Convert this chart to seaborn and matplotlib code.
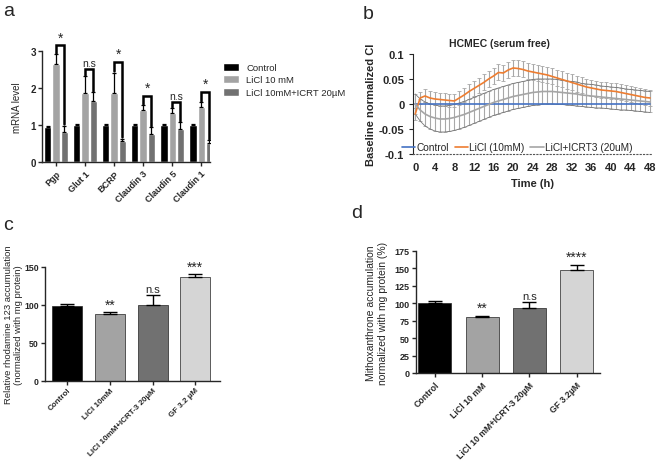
import matplotlib
matplotlib.use("Agg")
import pandas as pd
import matplotlib.pyplot as plt
import seaborn as sns

# ---- panel a: mRNA levels
genes = ["Pgp", "Glut 1", "BCRP", "Claudin 3", "Claudin 5", "Claudin 1"]
treatments_a = ["Control", "LiCl 10 mM", "LiCl 10mM+ICRT 20µM"]
mrna_ctrl = [0.94, 1.0, 1.0, 1.0, 1.0, 1.0]
mrna_licl = [2.65, 1.86, 1.86, 1.39, 1.32, 1.48]
mrna_icrt = [0.82, 1.64, 0.56, 0.76, 0.89, 0.51]
err_ctrl = [0.04, 0.02, 0.02, 0.02, 0.02, 0.02]
err_licl = [0.26, 0.46, 0.55, 0.14, 0.13, 0.13]
err_icrt = [0.16, 0.24, 0.06, 0.18, 0.18, 0.07]
sig_a = ["*", "n.s", "*", "*", "n.s", "*"]
bracket_top_a = [3.15, 2.5, 2.7, 1.78, 1.62, 1.9]

# ---- panel b: impedance time course
hours = list(range(49))
ctrl_ci = [0.0, 0.0, 0.0, 0.0, 0.0, 0.0, 0.0, 0.0, 0.0, 0.0, 0.0, 0.0, 0.0,
           0.0, 0.0, 0.0, 0.0, 0.0, 0.0, 0.0, 0.0, 0.0, 0.0, 0.0, 0.0, 0.0,
           0.0, 0.0, 0.0, 0.0, 0.0, 0.0, 0.0, 0.0, 0.0, 0.0, 0.0, 0.0, 0.0,
           0.0, 0.0, 0.0, 0.0, 0.0, 0.0, 0.0, 0.0, 0.0, 0.0]
licl_ci = [-0.02, 0.012, 0.016, 0.012, 0.01, 0.009, 0.008, 0.007, 0.006, 0.012,
           0.018, 0.025, 0.031, 0.037, 0.043, 0.05, 0.056, 0.063, 0.062, 0.068,
           0.072, 0.071, 0.069, 0.066, 0.064, 0.062, 0.06, 0.058, 0.055, 0.052,
           0.049, 0.046, 0.043, 0.04, 0.037, 0.034, 0.032, 0.03, 0.028, 0.027,
           0.026, 0.025, 0.023, 0.021, 0.019, 0.017, 0.015, 0.013, 0.012]
licl_ci_err = [0.012, 0.012, 0.013, 0.013, 0.013, 0.013, 0.013, 0.013, 0.013, 0.014,
               0.014, 0.015, 0.015, 0.015, 0.016, 0.016, 0.016, 0.016, 0.016, 0.016,
               0.016, 0.016, 0.016, 0.016, 0.016, 0.016, 0.016, 0.016, 0.016, 0.016,
               0.016, 0.016, 0.016, 0.016, 0.016, 0.016, 0.016, 0.016, 0.016, 0.016,
               0.016, 0.016, 0.016, 0.016, 0.016, 0.016, 0.016, 0.016, 0.016]
icrt_ci = [0.0, -0.012, -0.02, -0.025, -0.028, -0.03, -0.03, -0.029, -0.027, -0.024,
           -0.021, -0.017, -0.013, -0.009, -0.005, -0.001, 0.003, 0.006, 0.009, 0.012,
           0.015, 0.017, 0.019, 0.021, 0.023, 0.024, 0.025, 0.025, 0.025, 0.024,
           0.023, 0.022, 0.021, 0.02, 0.018, 0.017, 0.016, 0.015, 0.014, 0.013,
           0.012, 0.011, 0.01, 0.009, 0.008, 0.007, 0.006, 0.005, 0.004]
icrt_ci_err = [0.02, 0.022, 0.024, 0.025, 0.026, 0.026, 0.026, 0.026, 0.026, 0.026,
               0.026, 0.026, 0.026, 0.026, 0.026, 0.026, 0.026, 0.026, 0.026, 0.026,
               0.026, 0.026, 0.026, 0.026, 0.026, 0.026, 0.025, 0.025, 0.025, 0.025,
               0.024, 0.024, 0.024, 0.024, 0.023, 0.023, 0.023, 0.023, 0.022, 0.022,
               0.022, 0.022, 0.022, 0.021, 0.021, 0.021, 0.021, 0.021, 0.021]
series_b = ["Control", "LiCl (10mM)", "LiCl+ICRT3 (20uM)"]

# ---- panel c: rhodamine 123
groups_c = ["Control", "LiCl 10mM", "LiCl 10mM+ICRT-3 20µM", "GF 3.2 µM"]
rhod = [98, 88, 100, 137]
rhod_err = [3, 2, 13, 3]
sig_c = ["", "**", "n.s", "***"]

# ---- panel d: mitoxantrone
groups_d = ["Control", "LiCl 10 mM", "LiCl 10 mM+ICRT-3 20µM", "GF 3.2µM"]
mitox = [100, 80, 93, 147]
mitox_err = [3, 2, 9, 8]
sig_d = ["", "**", "n.s", "****"]

sns.set_style("ticks")
plt.rcParams["font.family"] = ["Liberation Sans", "DejaVu Sans"]
bar_cols = ["#000000", "#a3a3a3", "#717171", "#d5d5d5"]

fig = plt.figure(figsize=(6.56, 4.64), dpi=100)


def style_axes(ax, xsize=7, ysize=7):
    sns.despine(ax=ax)
    for s in ["left", "bottom"]:
        ax.spines[s].set_linewidth(1.0)
    ax.tick_params(width=1.0, length=3, pad=2)
    ax.tick_params(axis="x", labelsize=xsize)
    ax.tick_params(axis="y", labelsize=ysize, pad=1.5)
    for lab in ax.get_xticklabels():
        lab.set_rotation(45)
        lab.set_ha("right")
        lab.set_rotation_mode("anchor")
        lab.set_fontweight("bold")
    for lab in ax.get_yticklabels():
        lab.set_fontweight("bold")


# ---------------- a
ax_a = fig.add_axes([0.064, 0.649, 0.256, 0.239])
df_a = pd.DataFrame({
    "gene": genes * 3,
    "level": mrna_ctrl + mrna_licl + mrna_icrt,
    "treatment": [t for t in treatments_a for _ in genes],
})
sns.barplot(data=df_a, x="gene", y="level", hue="treatment", palette=bar_cols[:3],
            errorbar=None, width=0.85, gap=0.12, ax=ax_a)
errs_a = [err_ctrl, err_licl, err_icrt]
centers = []
for cont, errs in zip(ax_a.containers, errs_a):
    xs = [b.get_x() + b.get_width() / 2 for b in cont]
    hs = [b.get_height() for b in cont]
    centers.append(xs)
    ax_a.errorbar(xs, hs, yerr=[[0] * len(errs), errs], fmt="none", ecolor="black",
                  elinewidth=0.9, capsize=1.5, capthick=0.9)
for i in range(len(genes)):
    x1, x2 = centers[1][i], centers[2][i]
    y1 = mrna_licl[i] + err_licl[i] + 0.04
    y2 = mrna_icrt[i] + err_icrt[i] + 0.04
    top = bracket_top_a[i]
    ax_a.plot([x1, x1, x2, x2], [y1, top, top, y2], color="black", lw=1.8,
              solid_joinstyle="miter", clip_on=False)
    ax_a.text((x1 + x2) / 2, top + 0.03, sig_a[i], ha="center", va="bottom",
              fontsize=10 if sig_a[i] == "*" else 7.5, clip_on=False)
ax_a.set_xlim(-0.48, 5.3)
ax_a.set_ylim(0, 3)
ax_a.set_yticks([0, 1, 2, 3])
ax_a.set_xlabel("")
ax_a.set_ylabel("mRNA level", fontsize=7, labelpad=6)
style_axes(ax_a, xsize=6.5)
ax_a.legend(loc="upper left", bbox_to_anchor=(1.03, 0.97), frameon=False,
            fontsize=6.8, handlelength=1.6, handleheight=0.9, labelspacing=0.35)

# ---------------- b
ax_b = fig.add_axes([0.630, 0.666, 0.364, 0.2155])
df_b = pd.DataFrame({
    "hour": hours * 3,
    "ci": ctrl_ci + licl_ci + icrt_ci,
    "series": [s for s in series_b for _ in hours],
})
ax_b.errorbar(hours, icrt_ci, yerr=icrt_ci_err, fmt="none", ecolor="#a8a8a8",
              elinewidth=0.8, capsize=1.5, capthick=0.6)
ax_b.errorbar(hours, licl_ci, yerr=licl_ci_err, fmt="none", ecolor="#a8a8a8",
              elinewidth=0.8, capsize=1.5, capthick=0.6)
for sign in (1, -1):
    ax_b.plot(hours, [m + sign * e for m, e in zip(icrt_ci, icrt_ci_err)],
              color="#777777", lw=0.6)
sns.lineplot(data=df_b, x="hour", y="ci", hue="series",
             palette=["#4472c4", "#ed7d31", "#a5a5a5"], lw=1.2, ax=ax_b,
             hue_order=series_b)
ax_b.set_xlim(-0.4, 48.4)
ax_b.set_ylim(-0.1, 0.1)
ax_b.set_xticks(list(range(0, 49, 4)))
ax_b.set_yticks([-0.1, -0.05, 0, 0.05, 0.1])
ax_b.set_yticklabels(["-0.1", "-0.05", "0", "0.05", "0.1"])
sns.despine(ax=ax_b)
ax_b.spines["left"].set_linewidth(0.8)
ax_b.spines["bottom"].set_linestyle((0, (1, 2)))
ax_b.spines["bottom"].set_linewidth(0.8)
ax_b.spines["bottom"].set_color("#555555")
ax_b.tick_params(axis="y", labelsize=8, width=0.8, length=3)
ax_b.tick_params(axis="x", labelsize=8, length=0, pad=6)
for lab in ax_b.get_xticklabels() + ax_b.get_yticklabels():
    lab.set_fontweight("bold")
ax_b.set_xlabel("Time (h)", fontsize=8, fontweight="bold", labelpad=4)
ax_b.set_ylabel("Baseline normalized CI", fontsize=8, fontweight="bold", labelpad=2)
fig.text(0.762, 0.905, "HCMEC (serum free)", ha="center", va="center",
         fontsize=7.5, fontweight="bold")
ax_b.legend(loc="lower left", bbox_to_anchor=(-0.085, -0.075), ncol=3, frameon=False,
            fontsize=7.3, handlelength=1.3, handletextpad=0.1, columnspacing=0.6)

# ---------------- c
ax_c = fig.add_axes([0.0686, 0.177, 0.267, 0.2457])
sns.barplot(x=groups_c, y=rhod, hue=groups_c, palette=bar_cols, legend=False,
            width=0.7, edgecolor="#222222", linewidth=0.5, errorbar=None, ax=ax_c)
xs_c = [b.get_x() + b.get_width() / 2 for b in ax_c.patches]
ax_c.errorbar(xs_c, rhod, yerr=[[0] * len(rhod_err), rhod_err], fmt="none",
              ecolor="black", elinewidth=1, capsize=5, capthick=1)
for x, v, e, s in zip(xs_c, rhod, rhod_err, sig_c):
    if s:
        ax_c.text(x, v + e + 1, s, ha="center", va="bottom",
                  fontsize=10 if "*" in s else 8, clip_on=False)
ax_c.set_xlim(-0.52, 3.58)
ax_c.set_ylim(0, 150)
ax_c.set_yticks([0, 50, 100, 150])
ax_c.set_ylabel("Relative rhodamine 123 accumulation\n(normalized with mg protein)",
                fontsize=6.8, linespacing=1.15)
ax_c.yaxis.set_label_coords(-0.125, 0.5)
style_axes(ax_c, xsize=5.8, ysize=6.3)
ax_c.tick_params(axis="x", pad=1)

# ---------------- d
ax_d = fig.add_axes([0.634, 0.194, 0.2805, 0.263])
sns.barplot(x=groups_d, y=mitox, hue=groups_d, palette=bar_cols, legend=False,
            width=0.7, edgecolor="#222222", linewidth=0.5, errorbar=None, ax=ax_d)
xs_d = [b.get_x() + b.get_width() / 2 for b in ax_d.patches]
ax_d.errorbar(xs_d, mitox, yerr=[[0] * len(mitox_err), mitox_err], fmt="none",
              ecolor="black", elinewidth=1, capsize=5, capthick=1)
for x, v, e, s in zip(xs_d, mitox, mitox_err, sig_d):
    if s:
        ax_d.text(x, v + e + 1, s, ha="center", va="bottom",
                  fontsize=10 if "*" in s else 8, clip_on=False)
ax_d.set_xlim(-0.4, 3.49)
ax_d.set_ylim(0, 175)
ax_d.set_yticks(list(range(0, 176, 25)))
ax_d.set_ylabel("Mithoxanthrone accumulation\nnormalized with mg protein (%)",
                fontsize=7.5, labelpad=5)
style_axes(ax_d, xsize=6.3, ysize=6.5)

# panel letters
for x, y, t in [(0.005, 0.975, "a"), (0.553, 0.968, "b"), (0.005, 0.515, "c"), (0.535, 0.54, "d")]:
    fig.text(x, y, t, fontsize=14, va="center", ha="left")

fig.savefig("out.png", dpi=100)
